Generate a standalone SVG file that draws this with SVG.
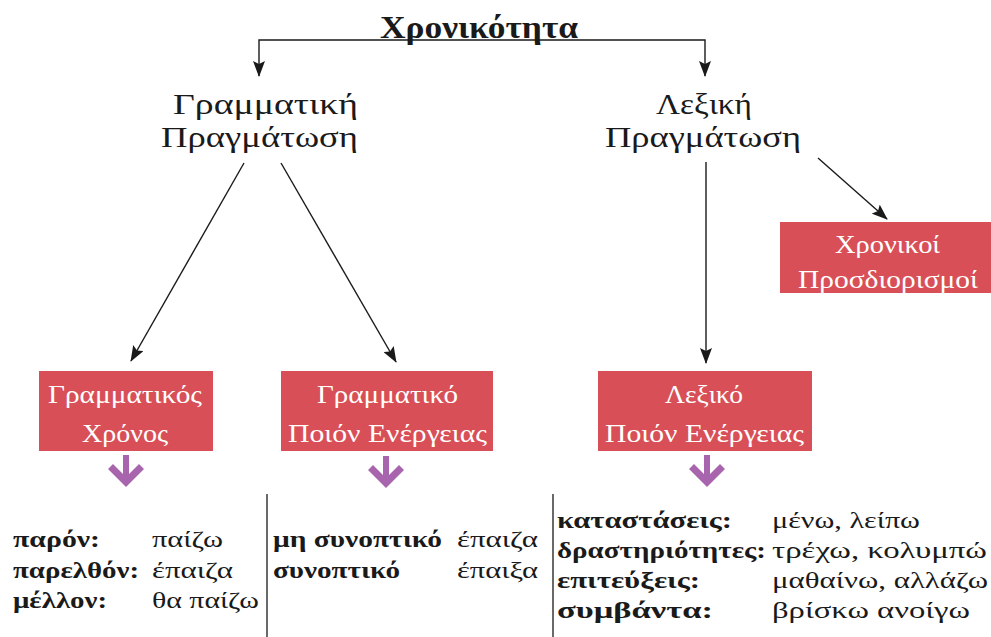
<svg xmlns="http://www.w3.org/2000/svg" width="991" height="637" viewBox="0 0 991 637">
<defs>
<marker id="ah" markerWidth="16" markerHeight="12" refX="15" refY="6" orient="auto" markerUnits="userSpaceOnUse">
<path d="M0,0 L16,6 L0,12 L3,6 z" fill="#1a1a1a"/>
</marker>
<symbol id="parrow" viewBox="0 0 36 38" overflow="visible">
<path d="M15,0 H21 V19 L31,9 L36,14 L18,32 L0,14 L5,9 L15,19 z" fill="#a865ae"/>
</symbol>
</defs>
<style>
.t{font-family:"Liberation Serif","DejaVu Serif",serif;fill:#1a1a1a}
.h{font-size:30px}
.b{font-size:25px;fill:#fff}
.box{fill:#d94f57}
.l{font-size:24px}
.bd{font-weight:bold}
.c{stroke:#1a1a1a;stroke-width:1.4;fill:none}
.sep{stroke:#1a1a1a;stroke-width:1.3}
</style>
<rect width="991" height="637" fill="#fff"/>
<g id="connectors">
<polyline class="c" points="478,40 259,40 259,76" marker-end="url(#ah)"/>
<polyline class="c" points="478,40 705,40 705,76" marker-end="url(#ah)"/>
<line class="c" x1="244" y1="163" x2="131" y2="361" marker-end="url(#ah)"/>
<line class="c" x1="281" y1="163" x2="396" y2="362" marker-end="url(#ah)"/>
<line class="c" x1="706" y1="162" x2="706" y2="363" marker-end="url(#ah)"/>
<line class="c" x1="818" y1="158" x2="887" y2="219" marker-end="url(#ah)"/>
<use href="#parrow" x="108" y="455" width="36" height="38"/>
<use href="#parrow" x="368" y="456" width="36" height="38"/>
<use href="#parrow" x="689" y="455" width="36" height="38"/>
</g>
<g id="title"><text class="t bd" x="380" y="38" font-size="31" textLength="198" lengthAdjust="spacingAndGlyphs">Χρονικότητα</text></g>
<g id="gram"><text class="t h" x="173" y="114" textLength="185" lengthAdjust="spacingAndGlyphs">Γραμματική</text><text class="t h" x="161" y="147" textLength="197" lengthAdjust="spacingAndGlyphs">Πραγμάτωση</text></g>
<g id="lex"><text class="t h" x="656" y="114" textLength="96" lengthAdjust="spacingAndGlyphs">Λεξική</text><text class="t h" x="605" y="147" textLength="196" lengthAdjust="spacingAndGlyphs">Πραγμάτωση</text></g>
<g id="box-chronos"><rect class="box" x="39" y="371" width="174" height="80"/><text class="t b" x="48" y="403" textLength="154" lengthAdjust="spacingAndGlyphs">Γραμματικός</text><text class="t b" x="82" y="442" textLength="86" lengthAdjust="spacingAndGlyphs">Χρόνος</text></g>
<g id="box-gram-poion"><rect class="box" x="281" y="371" width="212" height="80"/><text class="t b" x="317" y="403" textLength="141" lengthAdjust="spacingAndGlyphs">Γραμματικό</text><text class="t b" x="288" y="442" textLength="199" lengthAdjust="spacingAndGlyphs">Ποιόν Ενέργειας</text></g>
<g id="box-lex-poion"><rect class="box" x="598" y="371" width="214" height="80"/><text class="t b" x="665" y="403" textLength="78" lengthAdjust="spacingAndGlyphs">Λεξικό</text><text class="t b" x="605" y="442" textLength="199" lengthAdjust="spacingAndGlyphs">Ποιόν Ενέργειας</text></g>
<g id="box-prosd"><rect class="box" x="780" y="222" width="211" height="71"/><text class="t b" x="835" y="253" textLength="105" lengthAdjust="spacingAndGlyphs">Χρονικοί</text><text class="t b" x="798" y="288" textLength="180" lengthAdjust="spacingAndGlyphs">Προσδιορισμοί</text></g>
<g id="separators"><line class="sep" x1="267" y1="494" x2="267" y2="637"/><line class="sep" x1="553" y1="494" x2="553" y2="637"/></g>
<g id="list-chronos">
<text class="t l bd" x="13" y="547" textLength="87" lengthAdjust="spacingAndGlyphs">παρόν:</text><text class="t l" x="152" y="547" textLength="71" lengthAdjust="spacingAndGlyphs">παίζω</text>
<text class="t l bd" x="13" y="578" textLength="126" lengthAdjust="spacingAndGlyphs">παρελθόν:</text><text class="t l" x="152" y="578" textLength="81" lengthAdjust="spacingAndGlyphs">έπαιζα</text>
<text class="t l bd" x="13" y="608" textLength="94" lengthAdjust="spacingAndGlyphs">μέλλον:</text><text class="t l" x="152" y="608" textLength="107" lengthAdjust="spacingAndGlyphs">θα παίζω</text>
</g>
<g id="list-gram-poion">
<text class="t l bd" x="273" y="547" textLength="169" lengthAdjust="spacingAndGlyphs">μη συνοπτικό</text><text class="t l" x="457" y="547" textLength="81" lengthAdjust="spacingAndGlyphs">έπαιζα</text>
<text class="t l bd" x="273" y="578" textLength="127" lengthAdjust="spacingAndGlyphs">συνοπτικό</text><text class="t l" x="457" y="578" textLength="81" lengthAdjust="spacingAndGlyphs">έπαιξα</text>
</g>
<g id="list-lex-poion">
<text class="t l bd" x="557" y="528" textLength="175" lengthAdjust="spacingAndGlyphs">καταστάσεις:</text><text class="t l" x="772" y="528" textLength="148" lengthAdjust="spacingAndGlyphs">μένω, λείπω</text>
<text class="t l bd" x="557" y="558" textLength="209" lengthAdjust="spacingAndGlyphs">δραστηριότητες:</text><text class="t l" x="772" y="558" textLength="215" lengthAdjust="spacingAndGlyphs">τρέχω, κολυμπώ</text>
<text class="t l bd" x="557" y="588" textLength="143" lengthAdjust="spacingAndGlyphs">επιτεύξεις:</text><text class="t l" x="772" y="588" textLength="216" lengthAdjust="spacingAndGlyphs">μαθαίνω, αλλάζω</text>
<text class="t l bd" x="557" y="618" textLength="156" lengthAdjust="spacingAndGlyphs">συμβάντα:</text><text class="t l" x="772" y="618" textLength="198" lengthAdjust="spacingAndGlyphs">βρίσκω ανοίγω</text>
</g>
</svg>
